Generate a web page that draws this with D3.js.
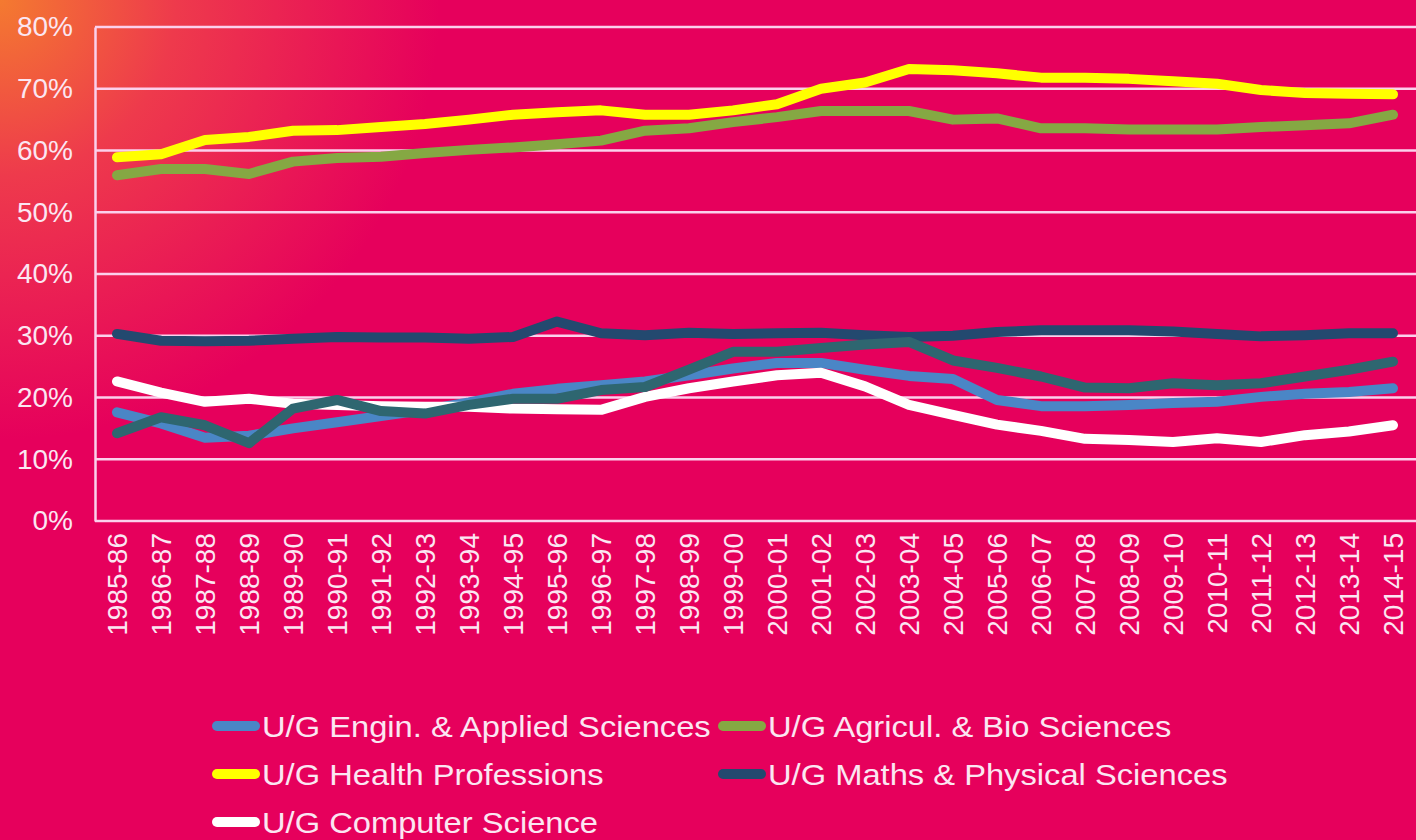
<!DOCTYPE html>
<html>
<head>
<meta charset="utf-8">
<script src="https://cdnjs.cloudflare.com/ajax/libs/d3/7.8.5/d3.min.js"></script>
<style>
  html, body { margin: 0; padding: 0; background: #e6005c; }
  svg { display: block; }
  text { font-family: "Liberation Sans", Arial, sans-serif; fill: #fbe6f2; }
</style>
</head>
<body>
<script>
var years = ["1985-86", "1986-87", "1987-88", "1988-89", "1989-90", "1990-91", "1991-92",
  "1992-93", "1993-94", "1994-95", "1995-96", "1996-97", "1997-98", "1998-99", "1999-00",
  "2000-01", "2001-02", "2002-03", "2003-04", "2004-05", "2005-06", "2006-07", "2007-08",
  "2008-09", "2009-10", "2010-11", "2011-12", "2012-13", "2013-14", "2014-15"];

var engin = [17.6, 15.8, 13.5, 13.8, 15.0, 16.0, 17.0, 18.0, 19.2, 20.6, 21.4, 22.0, 22.6, 23.6, 24.7,
  25.6, 25.6, 24.5, 23.5, 23.0, 19.6, 18.6, 18.6, 18.8, 19.1, 19.3, 20.1, 20.6, 20.9, 21.5];
var agri = [56.0, 57.0, 57.0, 56.2, 58.2, 58.8, 59.0, 59.6, 60.1, 60.5, 61.0, 61.6, 63.2, 63.6, 64.6,
  65.4, 66.4, 66.4, 66.4, 65.0, 65.2, 63.6, 63.6, 63.4, 63.4, 63.4, 63.8, 64.1, 64.4, 65.8];
var health = [58.9, 59.4, 61.7, 62.2, 63.2, 63.3, 63.8, 64.3, 65.0, 65.8, 66.2, 66.5, 65.8, 65.8, 66.5,
  67.5, 70.0, 71.0, 73.2, 73.0, 72.5, 71.8, 71.8, 71.6, 71.2, 70.8, 69.8, 69.3, 69.2, 69.1];
var maths = [30.3, 29.2, 29.1, 29.2, 29.5, 29.8, 29.7, 29.7, 29.5, 29.8, 32.3, 30.4, 30.1, 30.5, 30.3,
  30.4, 30.5, 30.1, 29.8, 30.0, 30.6, 30.9, 30.9, 30.9, 30.7, 30.3, 29.9, 30.1, 30.4, 30.4];
var compsci = [22.6, 20.8, 19.3, 19.8, 19.0, 18.8, 18.6, 18.5, 18.5, 18.2, 18.1, 18.0, 20.1, 21.5, 22.6,
  23.6, 24.0, 21.8, 18.8, 17.2, 15.6, 14.6, 13.3, 13.1, 12.8, 13.4, 12.8, 13.9, 14.5, 15.5];
// sixth series drawn in the chart but missing from its legend
var other = [14.2, 16.8, 15.5, 12.6, 18.2, 19.6, 17.8, 17.4, 18.8, 19.8, 19.8, 21.2, 21.7, 24.5, 27.4,
  27.4, 28.0, 28.6, 29.0, 26.0, 24.8, 23.4, 21.6, 21.5, 22.3, 22.0, 22.3, 23.4, 24.5, 25.8];

var yTicks = [0, 10, 20, 30, 40, 50, 60, 70, 80];

var series = [
  { name: "U/G Engin. & Applied Sciences", values: engin, color: "#4a86c6", legend: true },
  { name: "U/G Agricul. & Bio Sciences", values: agri, color: "#85a843", legend: true },
  { name: "U/G Health Professions", values: health, color: "#ffff00", legend: true },
  { name: "U/G Maths & Physical Sciences", values: maths, color: "#23496f", legend: true },
  { name: "U/G Computer Science", values: compsci, color: "#ffffff", legend: true },
  { name: "", values: other, color: "#2e6670", legend: false }
];

var width = 1416, height = 840;
var plotLeft = 95, plotRight = 1415, plotTop = 27, plotBottom = 521;

var svg = d3.select("body").append("svg")
  .attr("width", width)
  .attr("height", height);

// background with the orange glow in the top-left corner
var defs = svg.append("defs");
var glow = defs.append("radialGradient")
  .attr("id", "glow")
  .attr("gradientUnits", "userSpaceOnUse")
  .attr("cx", 0).attr("cy", 0).attr("r", 440);
glow.append("stop").attr("offset", "0%").attr("stop-color", "#f47a30");
glow.append("stop").attr("offset", "40%").attr("stop-color", "#ee3a4c");
glow.append("stop").attr("offset", "100%").attr("stop-color", "#e6005c");

svg.append("rect").attr("width", width).attr("height", height).attr("fill", "#e6005c");
svg.append("rect").attr("width", width).attr("height", height).attr("fill", "url(#glow)");

var x = d3.scaleBand().domain(years).range([plotLeft, plotRight]);
var y = d3.scaleLinear().domain([0, 80]).range([plotBottom, plotTop]);

// gridlines
svg.append("g").selectAll("line")
  .data(yTicks)
  .join("line")
  .attr("x1", plotLeft).attr("x2", width)
  .attr("y1", function(d) { return y(d); })
  .attr("y2", function(d) { return y(d); })
  .attr("stroke", "#fbd0ec")
  .attr("stroke-width", 2.5);

// y axis
var yAxis = svg.append("g")
  .attr("transform", "translate(" + plotLeft + ",0)")
  .call(d3.axisLeft(y).tickValues(yTicks).tickSize(0).tickPadding(22)
    .tickFormat(function(d) { return d + "%"; }));
yAxis.select(".domain").attr("stroke", "#fbd0ec").attr("stroke-width", 2.5);
yAxis.selectAll("text")
  .attr("font-size", 28)
  .attr("fill", "#fbe6f2")
  .attr("font-family", "Liberation Sans, Arial, sans-serif");

// x axis
var xAxis = svg.append("g")
  .attr("transform", "translate(0," + plotBottom + ")")
  .call(d3.axisBottom(x).tickSize(0).tickPadding(0));
xAxis.select(".domain").remove();
xAxis.selectAll("text")
  .attr("font-size", 28)
  .attr("fill", "#fbe6f2")
  .attr("font-family", "Liberation Sans, Arial, sans-serif")
  .attr("text-anchor", "end")
  .attr("dy", "0.35em")
  .attr("transform", "translate(0,12) rotate(-90)")
  .attr("x", 0).attr("y", 0);

// lines
var line = d3.line()
  .x(function(d, i) { return x(years[i]) + x.bandwidth() / 2; })
  .y(function(d) { return y(d); });

var drawOrder = [1, 2, 0, 4, 3, 5];
svg.append("g").selectAll("path")
  .data(drawOrder.map(function(i) { return series[i]; }))
  .join("path")
  .attr("d", function(d) { return line(d.values); })
  .attr("fill", "none")
  .attr("stroke", function(d) { return d.color; })
  .attr("stroke-width", 10)
  .attr("stroke-linejoin", "round")
  .attr("stroke-linecap", "round");

// legend
var legendItems = series.filter(function(d) { return d.legend; });
var legend = svg.append("g").selectAll("g")
  .data(legendItems)
  .join("g")
  .attr("transform", function(d, i) {
    return "translate(" + (i % 2 === 0 ? 217 : 723) + "," + (726 + Math.floor(i / 2) * 48) + ")";
  });
legend.append("line")
  .attr("x1", 0).attr("x2", 38)
  .attr("stroke", function(d) { return d.color; })
  .attr("stroke-width", 10)
  .attr("stroke-linecap", "round");
legend.append("text")
  .attr("x", 41.3)
  .attr("dy", "0.36em")
  .attr("font-size", 30)
  .attr("transform", "scale(1.09,1)")
  .text(function(d) { return d.name; });
</script>
</body>
</html>
